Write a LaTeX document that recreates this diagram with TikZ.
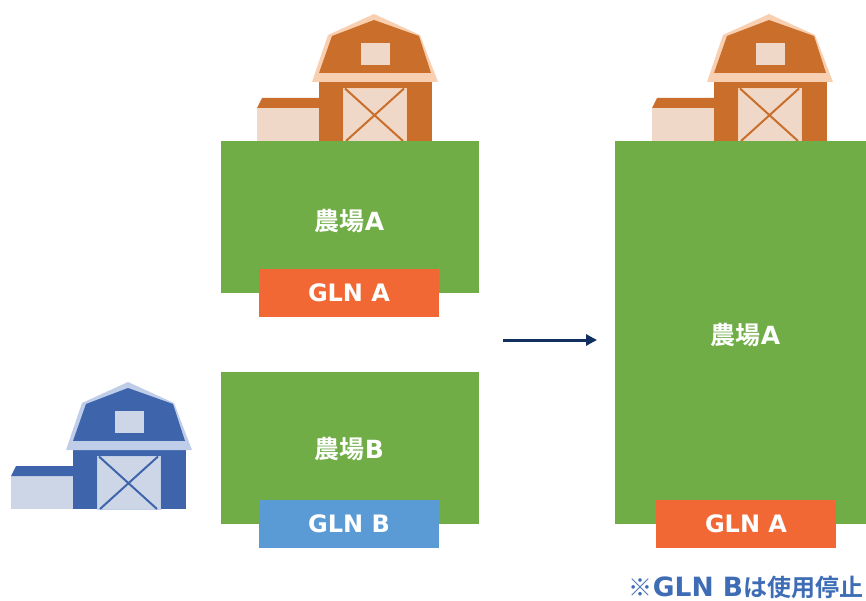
\documentclass[tikz,border=0pt]{standalone}
\usepackage{fontspec}
\setmainfont{Noto Sans CJK JP}[BoldFont={Noto Sans CJK JP Bold}]
\newfontfamily\latf{DejaVu Sans}
\usetikzlibrary{arrows.meta}
\definecolor{fieldgreen}{HTML}{70AD47}
\definecolor{glnorange}{HTML}{F26835}
\definecolor{glnblue}{HTML}{5B9BD5}
\definecolor{notecol}{HTML}{3E6DB5}
\definecolor{navy}{HTML}{12305F}
\definecolor{odark}{HTML}{C96F2B}
\definecolor{omid}{HTML}{F8CFB0}
\definecolor{olight}{HTML}{F0D8C8}
\definecolor{bdark}{HTML}{3E65AC}
\definecolor{bmid}{HTML}{BFCDE8}
\definecolor{blight}{HTML}{CDD6E6}
\tikzset{
  field/.style={fill=fieldgreen,draw=none,minimum width=258pt,minimum height=152pt},
  fieldlabel/.style={inner sep=0pt,font=\bfseries\fontsize{25}{25}\selectfont,text=white},
  glnbox/.style={draw=none,inner sep=0pt,minimum width=180pt,minimum height=48pt,font=\bfseries\latf\fontsize{24}{24}\selectfont,text=white},
  barnline/.style={line width=2pt,line cap=butt},
  pics/barn/.style n args={3}{code={
    \fill[#3] (0,67) rectangle (62,100);
    \fill[#1] (0,67) -- (5,57) -- (62,57) -- (62,67) -- cycle;
    \fill[#1] (62,39) rectangle (175,100);
    \fill[#2] (55,41) -- (71,-6) -- (117,-27) -- (163,-6) -- (181,41) -- cycle;
    \fill[#1] (62,32) -- (75,-5) -- (117,-21) -- (162,-5) -- (174,32) -- cycle;
    \fill[#2] (60,32) rectangle (177,38);
    \fill[#3] (104,2) rectangle (133,24);
    \fill[#3, draw=#2, line width=.8pt] (86,47) rectangle (149,100);
    \draw[#1,barnline] (88,47.5) -- (146,100) (147,47.5) -- (89,100);
  }}
}
\begin{document}
\begin{tikzpicture}[x=1pt,y=-1pt]
\useasboundingbox (0,0) rectangle (866,601);
\pic at (257,41) {barn={odark}{omid}{olight}};
\pic at (652,41) {barn={odark}{omid}{olight}};
\pic at (11,409) {barn={bdark}{bmid}{blight}};
\node[field] (fa) at (350,217) {};
\node[field] (fb) at (350,448) {};
\node[field,minimum width=252pt,minimum height=383pt] (fc) at (741,332.5) {};
\node[fieldlabel] (la) at (349.5,221) {農場{\latf A}};
\node[fieldlabel] (lb) at (349.5,449) {農場{\latf B}};
\node[fieldlabel] (lc) at (745.5,335) {農場{\latf A}};
\node[glnbox,fill=glnorange] (ga) at (349,293) {\raisebox{-1pt}{GLN A}};
\node[glnbox,fill=glnblue] (gb) at (349,524) {\raisebox{-1pt}{GLN B}};
\node[glnbox,fill=glnorange] (gc) at (746,524) {\raisebox{-1pt}{GLN A}};
\coordinate (s) at (503,340);
\coordinate (e) at (597,340);
\draw[navy,line width=3pt,-{Triangle[length=11pt,width=11pt]}] (s) -- (e);
\node[text=notecol,font=\bfseries\fontsize{24}{24}\selectfont,inner sep=0pt] (note) at (746,587) {※{\latf\fontsize{26.5}{26.5}\selectfont GLN B}は使用停止};
\end{tikzpicture}
\end{document}
